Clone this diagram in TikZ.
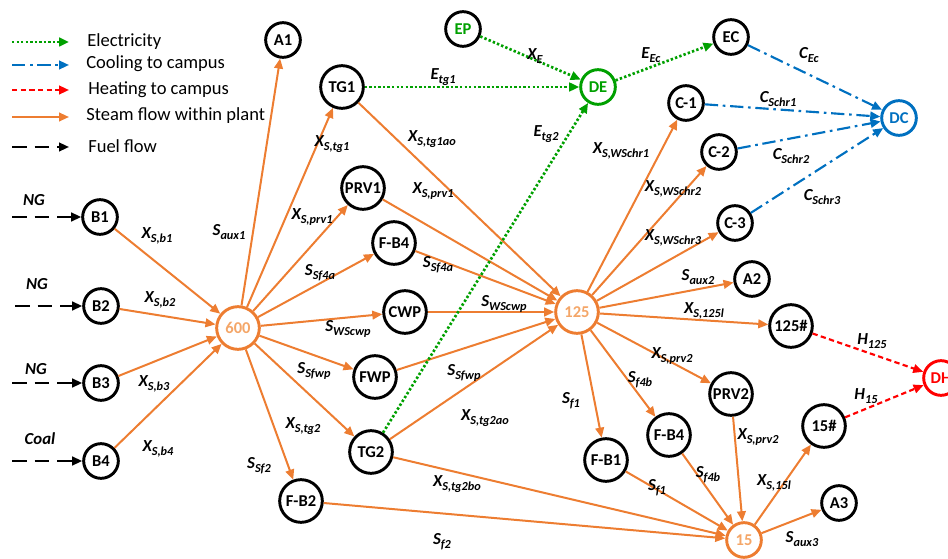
\documentclass[tikz,border=0pt]{standalone}
\usepackage{fontspec}
\setmainfont{Carlito}
\usetikzlibrary{arrows.meta}
\definecolor{steamOrange}{RGB}{237,125,49}
\definecolor{hubText}{RGB}{244,166,104}
\definecolor{elecGreen}{RGB}{0,160,0}
\definecolor{coolBlue}{RGB}{0,112,192}
\definecolor{heatRed}{RGB}{255,0,0}
\newcommand{\flowsub}[1]{\raisebox{-0.45ex}{\fontsize{9.2}{10}\selectfont #1}}
\tikzset{
	plantNode/.style={
		circle,
		draw,
		line width=2.2pt,
		inner sep=0pt,
		minimum size=26pt,
		font=\fontsize{12.4}{14}\selectfont\bfseries
	},
	plantBig/.style={plantNode, minimum size=32pt},
	plantHub/.style={draw=steamOrange, text=hubText},
	flowLabel/.style={inner sep=0pt, font=\fontsize{12.6}{14}\selectfont\bfseries\itshape},
	legendText/.style={anchor=west, inner sep=0pt, font=\fontsize{13.9}{16}\selectfont},
	flowTip/.style={-{Triangle[length=7.5pt,width=6.5pt]}},
	steamFlow/.style={flowTip, line width=1.5pt, draw=steamOrange},
	elecFlow/.style={flowTip, line width=2pt, draw=elecGreen, dash pattern=on 1.8pt off 1.6pt},
	coolFlow/.style={flowTip, line width=1.6pt, draw=coolBlue, dash pattern=on 10pt off 3.5pt on 2pt off 3.5pt},
	heatFlow/.style={flowTip, line width=1.6pt, draw=heatRed, dash pattern=on 4pt off 2.5pt},
	fuelFlow/.style={flowTip, line width=1.6pt, draw=black, dash pattern=on 11pt off 6pt}
}

\begin{document}
\begin{tikzpicture}[x=0.75pt,y=-0.75pt]

	\useasboundingbox (0,0) rectangle (948,559);

	% Legend
	\coordinate (legElecA) at (12,42);  \coordinate (legElecB) at (69,42);
	\coordinate (legCoolA) at (12,65);  \coordinate (legCoolB) at (69,65);
	\coordinate (legHeatA) at (12,90);  \coordinate (legHeatB) at (69,90);
	\coordinate (legSteamA) at (12,117); \coordinate (legSteamB) at (69,117);
	\coordinate (legFuelA) at (12,147); \coordinate (legFuelB) at (69,147);
	\draw[elecFlow] (legElecA) -- (legElecB);
	\draw[coolFlow] (legCoolA) -- (legCoolB);
	\draw[heatFlow] (legHeatA) -- (legHeatB);
	\draw[steamFlow] (legSteamA) -- (legSteamB);
	\draw[fuelFlow] (legFuelA) -- (legFuelB);
	\node[legendText] (legElec) at (87,42) {Electricity};
	\node[legendText] (legCool) at (86,64) {Cooling to campus};
	\node[legendText] (legHeat) at (88,90) {Heating to campus};
	\node[legendText] (legSteam) at (86,116) {Steam flow within plant};
	\node[legendText] (legFuel) at (88,146) {Fuel flow};

	% Boilers and 600 header
	\node[plantNode] (b1) at (100,217) {B1};
	\node[plantNode] (b2) at (101,306) {B2};
	\node[plantNode] (b3) at (101,383) {B3};
	\node[plantNode] (b4) at (101,461) {B4};
	\node[plantBig, plantHub] (h600) at (238,328) {600};

	% Users of 600 steam
	\node[plantNode] (a1) at (283,40) {A1};
	\node[plantBig] (tg1) at (342,87) {TG1};
	\node[plantBig] (prv1) at (363,188) {PRV1};
	\node[plantBig] (fb4a) at (394,243) {F-B4};
	\node[plantBig] (cwp) at (405,312) {CWP};
	\node[plantBig] (fwp) at (375,377) {FWP};
	\node[plantBig] (tg2) at (371,452) {TG2};
	\node[plantBig] (fb2) at (301,501) {F-B2};

	% Electricity side
	\node[plantNode, text=elecGreen] (ep) at (463,29) {EP};
	\node[plantNode, draw=elecGreen, text=elecGreen] (de) at (598,87) {DE};
	\node[plantNode] (ec) at (731,37) {EC};

	% Chillers and cooling
	\node[plantNode] (c1) at (686,103) {C-1};
	\node[plantNode] (c2) at (719,152) {C-2};
	\node[plantNode] (c3) at (735,223) {C-3};
	\node[plantNode, draw=coolBlue, text=coolBlue] (dc) at (899,118) {DC};

	% 125 header and its users
	\node[plantBig, plantHub] (h125) at (577,312) {125};
	\node[plantNode] (a2) at (752,279) {A2};
	\node[plantBig] (l125) at (791,326) {125\#};
	\node[plantBig] (prv2) at (731,394) {PRV2};
	\node[plantBig] (fb4b) at (669,435) {F-B4};
	\node[plantBig] (fb1) at (606,460) {F-B1};

	% 15 header and heating
	\node[plantNode, plantHub] (h15) at (744,540) {15};
	\node[plantBig] (l15) at (824,426) {15\#};
	\node[plantNode] (a3) at (839,503) {A3};
	\node[plantNode, draw=heatRed, text=heatRed] (dh) at (941,378) {DH};

	% Fuel inputs
	\coordinate (fuel1) at (12,217);
	\coordinate (fuel2) at (15,306);
	\coordinate (fuel3) at (12,383);
	\coordinate (fuel4) at (12,461);
	\draw[fuelFlow] (fuel1) -- (b1);
	\draw[fuelFlow] (fuel2) -- (b2);
	\draw[fuelFlow] (fuel3) -- (b3);
	\draw[fuelFlow] (fuel4) -- (b4);
	\node[flowLabel] (ng1) at (34,200) {NG};
	\node[flowLabel] (ng2) at (37,284) {NG};
	\node[flowLabel] (ng3) at (36,369) {NG};
	\node[flowLabel] (coal) at (40,439) {Coal};

	% Steam flows
	\draw[steamFlow] (b1) -- (h600);
	\draw[steamFlow] (b2) -- (h600);
	\draw[steamFlow] (b3) -- (h600);
	\draw[steamFlow] (b4) -- (h600);
	\draw[steamFlow] (h600) -- (a1);
	\draw[steamFlow] (h600) -- (tg1);
	\draw[steamFlow] (h600) -- (prv1);
	\draw[steamFlow] (h600) -- (fb4a);
	\draw[steamFlow] (h600) -- (cwp);
	\draw[steamFlow] (h600) -- (fwp);
	\draw[steamFlow] (h600) -- (tg2);
	\draw[steamFlow] (h600) -- (fb2);
	\draw[steamFlow] (tg1) -- (h125);
	\draw[steamFlow] (prv1) -- (h125);
	\draw[steamFlow] (fb4a) -- (h125);
	\draw[steamFlow] (cwp) -- (h125);
	\draw[steamFlow] (fwp) -- (h125);
	\draw[steamFlow] (tg2) -- (h125);
	\draw[steamFlow] (tg2) -- (h15);
	\draw[steamFlow] (fb2) -- (h15);
	\draw[steamFlow] (h125) -- (c1);
	\draw[steamFlow] (h125) -- (c2);
	\draw[steamFlow] (h125) -- (c3);
	\draw[steamFlow] (h125) -- (a2);
	\draw[steamFlow] (h125) -- (l125);
	\draw[steamFlow] (h125) -- (prv2);
	\draw[steamFlow] (h125) -- (fb4b);
	\draw[steamFlow] (h125) -- (fb1);
	\draw[steamFlow] (fb1) -- (h15);
	\draw[steamFlow] (fb4b) -- (h15);
	\draw[steamFlow] (prv2) -- (h15);
	\draw[steamFlow] (h15) -- (l15);
	\draw[steamFlow] (h15) -- (a3);

	% Electricity, cooling, heating
	\draw[elecFlow] (ep) -- (de);
	\draw[elecFlow] (tg1) -- (de);
	\draw[elecFlow] (tg2) -- (de);
	\draw[elecFlow] (de) -- (ec);
	\draw[coolFlow] (ec) -- (dc);
	\draw[coolFlow] (c1) -- (dc);
	\draw[coolFlow] (c2) -- (dc);
	\draw[coolFlow] (c3) -- (dc);
	\draw[heatFlow] (l125) -- (dh);
	\draw[heatFlow] (l15) -- (dh);

	% Flow labels
	\node[flowLabel] (lxb1) at (157,236) {X\flowsub{S,b1}};
	\node[flowLabel] (lxb2) at (160,300) {X\flowsub{S,b2}};
	\node[flowLabel] (lxb3) at (154,384) {X\flowsub{S,b3}};
	\node[flowLabel] (lxb4) at (158,449) {X\flowsub{S,b4}};
	\node[flowLabel] (lsaux1) at (229,232) {S\flowsub{aux1}};
	\node[flowLabel] (lxtg1) at (332,144) {X\flowsub{S,tg1}};
	\node[flowLabel] (lxprv1a) at (312,217) {X\flowsub{S,prv1}};
	\node[flowLabel] (lssf4a) at (320,273) {S\flowsub{Sf4a}};
	\node[flowLabel] (lswsa) at (348,329) {S\flowsub{WScwp}};
	\node[flowLabel] (lsfwpa) at (314,371) {S\flowsub{Sfwp}};
	\node[flowLabel] (lxtg2) at (303,426) {X\flowsub{S,tg2}};
	\node[flowLabel] (lssf2) at (259,466) {S\flowsub{Sf2}};
	\node[flowLabel] (letg1) at (443,77) {E\flowsub{tg1}};
	\node[flowLabel] (lxe) at (535,56) {X\flowsub{E}};
	\node[flowLabel] (leec) at (651,55) {E\flowsub{Ec}};
	\node[flowLabel] (lcec) at (809,55) {C\flowsub{Ec}};
	\node[flowLabel] (lxtg1ao) at (432,139) {X\flowsub{S,tg1ao}};
	\node[flowLabel] (lxprv1b) at (433,191) {X\flowsub{S,prv1}};
	\node[flowLabel] (letg2) at (546,134) {E\flowsub{tg2}};
	\node[flowLabel] (lssf4ab) at (438,265) {S\flowsub{Sf4a}};
	\node[flowLabel] (lswsb) at (504,304) {S\flowsub{WScwp}};
	\node[flowLabel] (lsfwpb) at (464,373) {S\flowsub{Sfwp}};
	\node[flowLabel] (lxtg2ao) at (485,418) {X\flowsub{S,tg2ao}};
	\node[flowLabel] (lxtg2bo) at (457,484) {X\flowsub{S,tg2bo}};
	\node[flowLabel] (lsf2) at (442,542) {S\flowsub{f2}};
	\node[flowLabel] (lxws1) at (621,151) {X\flowsub{S,WSchr1}};
	\node[flowLabel] (lxws2) at (673,189) {X\flowsub{S,WSchr2}};
	\node[flowLabel] (lxws3) at (673,238) {X\flowsub{S,WSchr3}};
	\node[flowLabel] (lcs1) at (778,99) {C\flowsub{Schr1}};
	\node[flowLabel] (lcs2) at (791,156) {C\flowsub{Schr2}};
	\node[flowLabel] (lcs3) at (822,197) {C\flowsub{Schr3}};
	\node[flowLabel] (lsaux2) at (698,277) {S\flowsub{aux2}};
	\node[flowLabel] (lx125l) at (704,311) {X\flowsub{S,125l}};
	\node[flowLabel] (lxprv2a) at (672,356) {X\flowsub{S,prv2}};
	\node[flowLabel] (lsf4ba) at (640,380) {S\flowsub{f4b}};
	\node[flowLabel] (lsf1a) at (571,401) {S\flowsub{f1}};
	\node[flowLabel] (lh125) at (872,341) {H\flowsub{125}};
	\node[flowLabel] (lh15) at (866,396) {H\flowsub{15}};
	\node[flowLabel] (lxprv2b) at (758,437) {X\flowsub{S,prv2}};
	\node[flowLabel] (lsf4bb) at (708,475) {S\flowsub{f4b}};
	\node[flowLabel] (lsf1b) at (657,488) {S\flowsub{f1}};
	\node[flowLabel] (lx15l) at (774,483) {X\flowsub{S,15l}};
	\node[flowLabel] (lsaux3) at (802,539) {S\flowsub{aux3}};

\end{tikzpicture}
\end{document}
